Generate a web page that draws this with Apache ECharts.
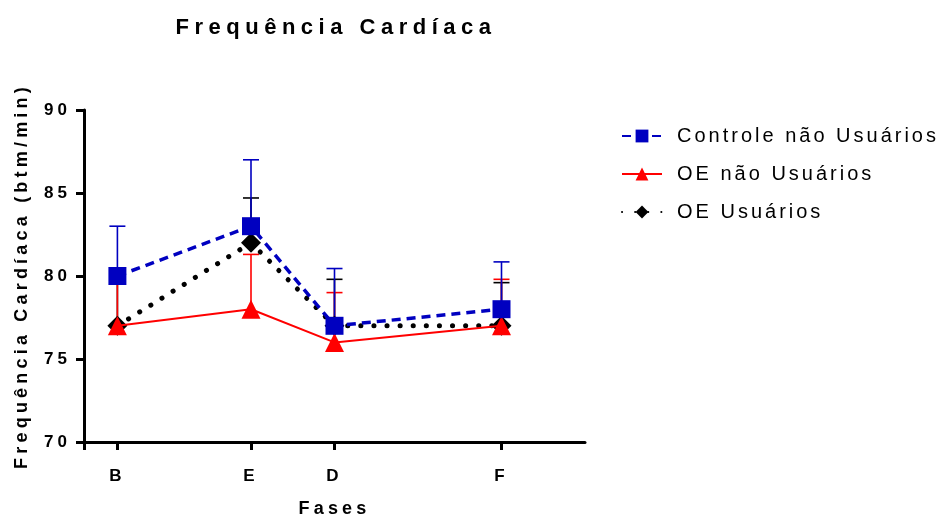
<!DOCTYPE html>
<html>
<head>
<meta charset="utf-8">
<script src="https://cdn.jsdelivr.net/npm/echarts@6/dist/echarts.min.js"></script>
<style>html,body{margin:0;padding:0;background:#fff}#c{width:945px;height:515px}</style>
</head>
<body>
<div id="c"></div>
<script>
// ---- data ----
const categories = ['B', 'E', 'D', 'F'];
const phasePos = [1, 5, 7.5, 12.5];
const seriesNames = ['Controle não Usuários', 'OE não Usuários', 'OE Usuários'];
const controle = [80, 83, 77, 78];
const controleErr = [3.0, 4.0, 3.45, 2.85];
const oeNao = [77, 78, 76, 77];
const oeNaoErr = [2.9, 3.3, 3.0, 2.8];
const oeUsu = [77, 82, 77, 77];
const oeUsuErr = [3.0, 2.7, 2.8, 2.6];
const yTicks = [70, 75, 80, 85, 90];

// letter spacing emulation keyed on font size
const LS = {'22': '5.5px', '20': '3px', '17': '4px', '18': '4.2px'};
(function () {
  const p = CanvasRenderingContext2D.prototype;
  const of = p.fillText;
  p.fillText = function (t, x, y, mw) {
    const m = /(\d+(?:\.\d+)?)px/.exec(this.font);
    try { this.letterSpacing = (m && LS[m[1]]) || '0px'; } catch (e) {}
    return mw === undefined ? of.call(this, t, x, y) : of.call(this, t, x, y, mw);
  };
})();

const FONT = 'Liberation Sans';
const colors = ['#0000C0', '#FF0000', '#000000'];

function pts(vals) { return vals.map((v, i) => [phasePos[i], v]); }
function errData(vals, errs) { return vals.map((v, i) => [phasePos[i], v, v + errs[i]]); }

function errSeries(vals, errs, color, z) {
  return {
    type: 'custom',
    z: z,
    silent: true,
    data: errData(vals, errs),
    renderItem: function (params, api) {
      const x = api.value(0);
      const lo = api.coord([x, api.value(1)]);
      const hi = api.coord([x, api.value(2)]);
      const hw = 8;
      return {
        type: 'group',
        children: [
          {type: 'line', shape: {x1: lo[0], y1: lo[1], x2: hi[0], y2: hi[1]}, style: {stroke: color, lineWidth: 1.6}},
          {type: 'line', shape: {x1: hi[0] - hw, y1: hi[1], x2: hi[0] + hw, y2: hi[1]}, style: {stroke: color, lineWidth: 1.6}}
        ]
      };
    }
  };
}

const chart = echarts.init(document.getElementById('c'), null, {renderer: 'canvas'});
chart.setOption({
  animation: false,
  backgroundColor: '#fff',
  title: {
    text: 'Frequência Cardíaca',
    left: 331, top: 12, textAlign: 'center',
    textStyle: {fontFamily: FONT, fontSize: 22, fontWeight: 'bold', color: '#000'}
  },
  legend: {
    orient: 'vertical',
    left: 616, top: 121,
    itemWidth: 40, itemHeight: 16, itemGap: 18,
    data: seriesNames,
    textStyle: {fontFamily: FONT, fontSize: 20, color: '#000', padding: [0, 0, 0, 10]}
  },
  grid: {left: 84, right: 360, top: 110, bottom: 73, containLabel: false, outerBoundsMode: 'none'},
  xAxis: {
    type: 'value', min: 0, max: 15,
    name: 'Fases', nameLocation: 'middle', nameGap: 58,
    nameTextStyle: {fontFamily: FONT, fontSize: 18, fontWeight: 'bold', color: '#000'},
    axisLine: {show: true, onZero: false, lineStyle: {color: '#000', width: 3}},
    axisTick: {show: true, length: 8, lineStyle: {color: '#000', width: 3}, customValues: [0].concat(phasePos)},
    axisLabel: {
      customValues: phasePos, margin: 26,
      fontFamily: FONT, fontSize: 17, fontWeight: 'bold', color: '#000',
      formatter: function (v) { const i = phasePos.indexOf(v); return i >= 0 ? categories[i] : ''; }
    },
    splitLine: {show: false}
  },
  yAxis: {
    type: 'value', min: 70, max: 90, interval: 5,
    name: 'Frequência Cardíaca (btm/min)', nameLocation: 'middle', nameGap: 53,
    nameTextStyle: {fontFamily: FONT, fontSize: 18, fontWeight: 'bold', color: '#000'},
    axisLine: {show: true, lineStyle: {color: '#000', width: 3}},
    axisTick: {show: true, length: 8, lineStyle: {color: '#000', width: 3}},
    axisLabel: {margin: 13, fontFamily: FONT, fontSize: 17, fontWeight: 'bold', color: '#000',
      formatter: function (v) { return yTicks.indexOf(v) >= 0 ? String(v) : ''; }},
    splitLine: {show: false}
  },
  series: [
    errSeries(oeUsu, oeUsuErr, colors[2], 2),
    errSeries(oeNao, oeNaoErr, colors[1], 3),
    errSeries(controle, controleErr, colors[0], 4),
    {
      name: seriesNames[2], type: 'line', z: 5, data: pts(oeUsu),
      symbol: 'diamond', symbolSize: 20,
      itemStyle: {color: colors[2]},
      lineStyle: {color: colors[2], width: 5, type: [0.1, 13], cap: 'round'}
    },
    {
      name: seriesNames[1], type: 'line', z: 6, data: pts(oeNao),
      symbol: 'triangle', symbolSize: 19,
      itemStyle: {color: colors[1]},
      lineStyle: {color: colors[1], width: 2}
    },
    {
      name: seriesNames[0], type: 'line', z: 7, data: pts(controle),
      symbol: 'rect', symbolSize: 18,
      itemStyle: {color: colors[0]},
      lineStyle: {color: colors[0], width: 3.5, type: [9, 6]}
    }
  ]
});
</script>
</body>
</html>
